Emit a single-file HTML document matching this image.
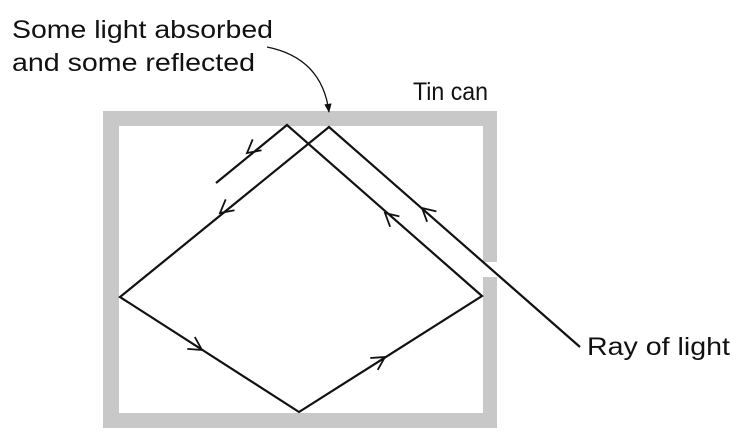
<!DOCTYPE html>
<html><head><meta charset="utf-8"><style>
html,body{margin:0;padding:0;background:#fff;}
svg{display:block;}
text{font-family:"Liberation Sans",Arial,sans-serif;fill:#111;}
</style></head><body>
<svg width="751" height="446" viewBox="0 0 751 446">
  <defs>
    <marker id="ah" viewBox="0 0 10 10" refX="9" refY="5" markerWidth="7" markerHeight="7" orient="auto">
      <path d="M0,1 L10,5 L0,9 Z" fill="#111"/>
    </marker>
  </defs>
  <g>
    <rect x="103" y="111" width="394" height="317" fill="#c8c8c8"/>
    <rect x="119" y="126" width="364" height="287" fill="#fff"/>
    <rect x="482" y="262" width="16" height="15" fill="#fff"/>
  </g>
  <g fill="none" stroke="#111" stroke-width="2.2" stroke-linejoin="miter">
    <polyline points="580,347 329,127 120,297 299,412 482,296 287,125 216,183"/>
  </g>
  <g id="arrows" fill="none" stroke="#111" stroke-width="1.8"></g>
  <path d="M267,47 Q322,58 329,112" fill="none" stroke="#111" stroke-width="1.3" marker-end="url(#ah)"/>
  <text x="12" y="38" font-size="25" textLength="261" lengthAdjust="spacingAndGlyphs">Some light absorbed</text>
  <text x="12" y="71" font-size="25" textLength="243" lengthAdjust="spacingAndGlyphs">and some reflected</text>
  <text x="413" y="100" font-size="25" textLength="75" lengthAdjust="spacingAndGlyphs">Tin can</text>
  <text x="587" y="355" font-size="25" textLength="143" lengthAdjust="spacingAndGlyphs">Ray of light</text>
</svg>
<script>
// chevron arrowheads: [x, y, dx, dy] direction of travel
var arrowPos = [[422,208,-1,-0.88],[385,213,-1,-0.88],[220,213,-1,0.81],[247,153,-1,0.81],[202,350,1,0.64],[385,357,1,-0.63]];
var g = document.getElementById('arrows');


arrowPos.forEach(function(a){
  var len = Math.hypot(a[2], a[3]), ux = a[2]/len, uy = a[3]/len;
  var s = 13, w = 7;
  var bx = a[0]-ux*s, by = a[1]-uy*s;
  var px = -uy, py = ux;
  var p = document.createElementNS('http://www.w3.org/2000/svg','path');
  p.setAttribute('d','M'+(bx+px*w)+','+(by+py*w)+' L'+a[0]+','+a[1]+' L'+(bx-px*w)+','+(by-py*w));
  
  
  g.appendChild(p);
});
</script>
</body></html>
